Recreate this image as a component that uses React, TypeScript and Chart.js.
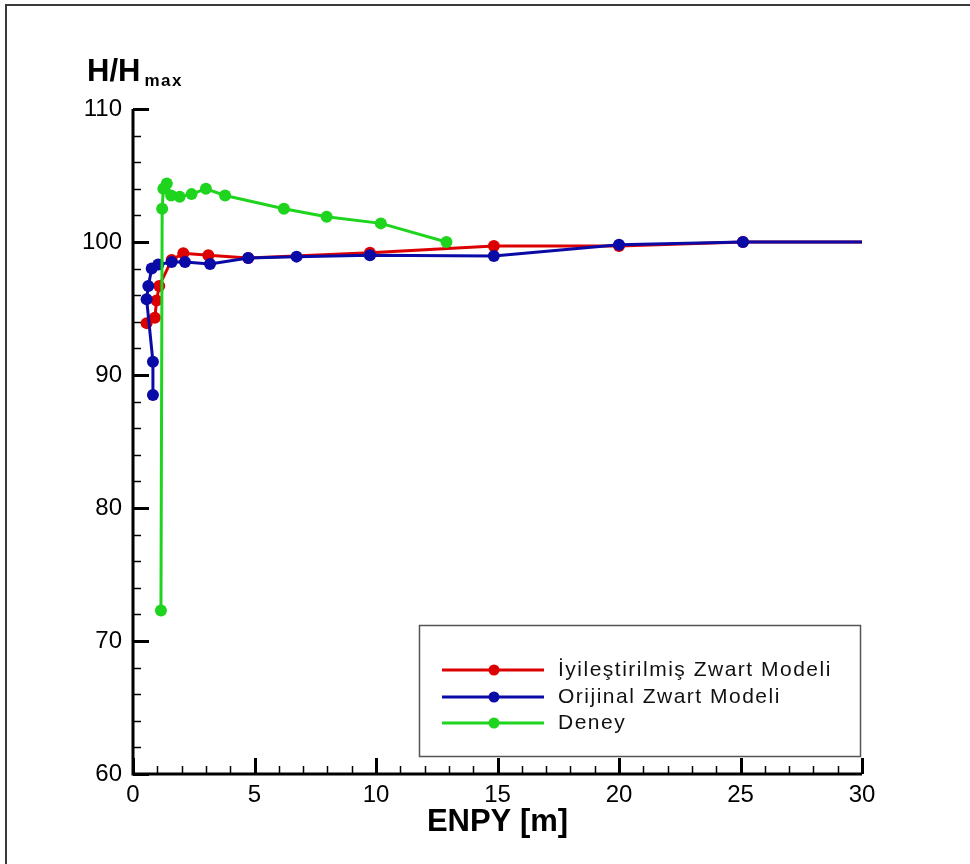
import React, { useEffect, useRef } from "react";
import { Chart, registerables } from "chart.js";

Chart.register(...registerables);

const seriesNames = ["İyileştirilmiş Zwart Modeli", "Orijinal Zwart Modeli", "Deney"];

const redX = [0.56, 0.9, 0.97, 1.08, 1.59, 2.07, 3.1, 4.74, 9.75, 14.85, 20.0, 25.1, 30];
const redY = [93.9, 94.3, 95.6, 96.7, 98.65, 99.15, 99.0, 98.8, 99.2, 99.7, 99.7, 100.0, 100.0];
const redMarker = [1, 1, 1, 1, 1, 1, 1, 1, 1, 1, 1, 1, 0];

const blueX = [0.82, 0.82, 0.56, 0.63, 0.77, 1.04, 1.59, 2.14, 3.17, 4.74, 6.73, 9.75, 14.85, 20.0, 25.1, 30];
const blueY = [88.5, 91.0, 95.7, 96.7, 98.0, 98.3, 98.5, 98.5, 98.35, 98.8, 98.9, 99.0, 98.95, 99.8, 100.0, 100.0];
const blueMarker = [1, 1, 1, 1, 1, 1, 1, 1, 1, 1, 1, 1, 1, 1, 1, 0];

const greenX = [1.15, 1.2, 1.25, 1.39, 1.57, 1.92, 2.41, 3.0, 3.79, 6.21, 7.97, 10.2, 12.9];
const greenY = [72.3, 102.5, 104.0, 104.4, 103.5, 103.4, 103.6, 104.0, 103.5, 102.5, 101.9, 101.4, 100.0];

const xTicks = [0, 5, 10, 15, 20, 25, 30];
const yTicks = [60, 70, 80, 90, 100, 110];

const COLORS = ["#dd0000", "#0a0aa6", "#1ed41e"];
const FONT = "'Liberation Sans', Arial, sans-serif";

const pts = (xs: number[], ys: number[]) => xs.map((x, i) => ({ x, y: ys[i] }));

const decorPlugin = {
  id: "decor",
  afterDraw(chart: any) {
    const ctx = chart.ctx;
    const xs = chart.scales.x;
    const ys = chart.scales.y;
    const area = chart.chartArea;
    ctx.save();
    ctx.strokeStyle = "#000";
    ctx.lineCap = "butt";
    // axis lines
    ctx.lineWidth = 3;
    ctx.beginPath();
    ctx.moveTo(area.left, area.top);
    ctx.lineTo(area.left, area.bottom);
    ctx.lineTo(area.right, area.bottom);
    ctx.stroke();
    // y ticks
    for (let v = ys.min; v <= ys.max + 1e-9; v += 2) {
      const py = Math.round(ys.getPixelForValue(v)) + 0.5;
      const major = Math.abs(v % 10) < 1e-9;
      ctx.lineWidth = major ? 3 : 1.5;
      ctx.beginPath();
      ctx.moveTo(area.left, py);
      ctx.lineTo(area.left + (major ? 16 : 8), py);
      ctx.stroke();
    }
    // x ticks
    for (let v = xs.min; v <= xs.max + 1e-9; v += 1) {
      const px = Math.round(xs.getPixelForValue(v)) + 0.5;
      const major = Math.abs(v % 5) < 1e-9;
      ctx.lineWidth = major ? 3 : 1.5;
      ctx.beginPath();
      ctx.moveTo(px, area.bottom);
      ctx.lineTo(px, area.bottom - (major ? 16 : 8));
      ctx.stroke();
    }
    // axis titles
    ctx.fillStyle = "#000";
    ctx.textBaseline = "alphabetic";
    ctx.textAlign = "center";
    ctx.font = `bold 31px ${FONT}`;
    ctx.fillText("ENPY [m]", (area.left + area.right) / 2, 831);
    ctx.textAlign = "left";
    ctx.font = `bold 31px ${FONT}`;
    ctx.fillText("H/H", 87, 81);
    const w = ctx.measureText("H/H").width;
    ctx.font = `bold 17px ${FONT}`;
    (ctx as any).letterSpacing = "1.5px";
    ctx.fillText("max", 87 + w + 4, 86);
    (ctx as any).letterSpacing = "0px";

    // legend
    const bx = 419.5, by = 625.5, bw = 441, bh = 131;
    ctx.fillStyle = "#fff";
    ctx.fillRect(bx, by, bw, bh);
    ctx.strokeStyle = "#555";
    ctx.lineWidth = 1.5;
    ctx.strokeRect(bx, by, bw, bh);
    const rows = [670, 697, 723];
    chart.data.datasets.forEach((ds: any, i: number) => {
      const yy = rows[i];
      ctx.strokeStyle = ds.borderColor;
      ctx.lineWidth = 3;
      ctx.beginPath();
      ctx.moveTo(442, yy);
      ctx.lineTo(544, yy);
      ctx.stroke();
      ctx.fillStyle = ds.backgroundColor;
      ctx.beginPath();
      ctx.arc(494, yy, 5.5, 0, Math.PI * 2);
      ctx.fill();
      ctx.fillStyle = "#111";
      ctx.font = `21px ${FONT}`;
      (ctx as any).letterSpacing = "1.5px";
      ctx.textBaseline = "middle";
      ctx.fillText(ds.label, 558, yy);
      (ctx as any).letterSpacing = "0px";
    });
    ctx.restore();
  },
};

export default function App() {
  const ref = useRef<HTMLCanvasElement | null>(null);
  useEffect(() => {
    if (!ref.current) return;
    const chart = new Chart(ref.current, {
      type: "scatter",
      data: {
        datasets: [
          {
            label: seriesNames[0],
            data: pts(redX, redY),
            borderColor: COLORS[0],
            backgroundColor: COLORS[0],
            showLine: true,
            borderWidth: 3,
            pointRadius: redMarker.map((m) => m * 6),
            pointBorderWidth: 0,
            order: 2,
          },
          {
            label: seriesNames[1],
            data: pts(blueX, blueY),
            borderColor: COLORS[1],
            backgroundColor: COLORS[1],
            showLine: true,
            borderWidth: 3,
            pointRadius: blueMarker.map((m) => m * 6),
            pointBorderWidth: 0,
            order: 1,
          },
          {
            label: seriesNames[2],
            data: pts(greenX, greenY),
            borderColor: COLORS[2],
            backgroundColor: COLORS[2],
            showLine: true,
            borderWidth: 3,
            pointRadius: 6,
            pointBorderWidth: 0,
            order: 0,
          },
        ],
      },
      options: {
        animation: false,
        responsive: false,
        devicePixelRatio: 1,
        layout: { padding: { top: 109, right: 108, left: 0, bottom: 0 } },
        plugins: { legend: { display: false }, tooltip: { enabled: false } },
        scales: {
          x: {
            type: "linear",
            min: 0,
            max: 30,
            afterFit: (s: any) => { s.height = 90; },
            afterBuildTicks: (s: any) => { s.ticks = xTicks.map((v) => ({ value: v })); },
            grid: { display: false, drawTicks: false },
            border: { display: false },
            ticks: { color: "#000", padding: 7, font: { family: FONT, size: 24 }, maxRotation: 0 },
          },
          y: {
            type: "linear",
            min: 60,
            max: 110,
            afterFit: (s: any) => { s.width = 133; },
            afterBuildTicks: (s: any) => { s.ticks = yTicks.map((v) => ({ value: v })); },
            grid: { display: false, drawTicks: false },
            border: { display: false },
            ticks: { color: "#000", padding: 11, font: { family: FONT, size: 24 } },
          },
        },
      },
      plugins: [decorPlugin],
    } as any);
    return () => chart.destroy();
  }, []);
  return (
    <div style={{ position: "fixed", left: 0, top: 0, width: 970, height: 864, background: "#fff" }}>
      <div
        style={{
          position: "absolute",
          left: 5,
          top: 4,
          width: 965,
          height: 860,
          borderTop: "2px solid #3a3a3a",
          borderLeft: "2px solid #3a3a3a",
        }}
      />
      <canvas ref={ref} width={970} height={864} style={{ position: "absolute", left: 0, top: 0 }} />
    </div>
  );
}
